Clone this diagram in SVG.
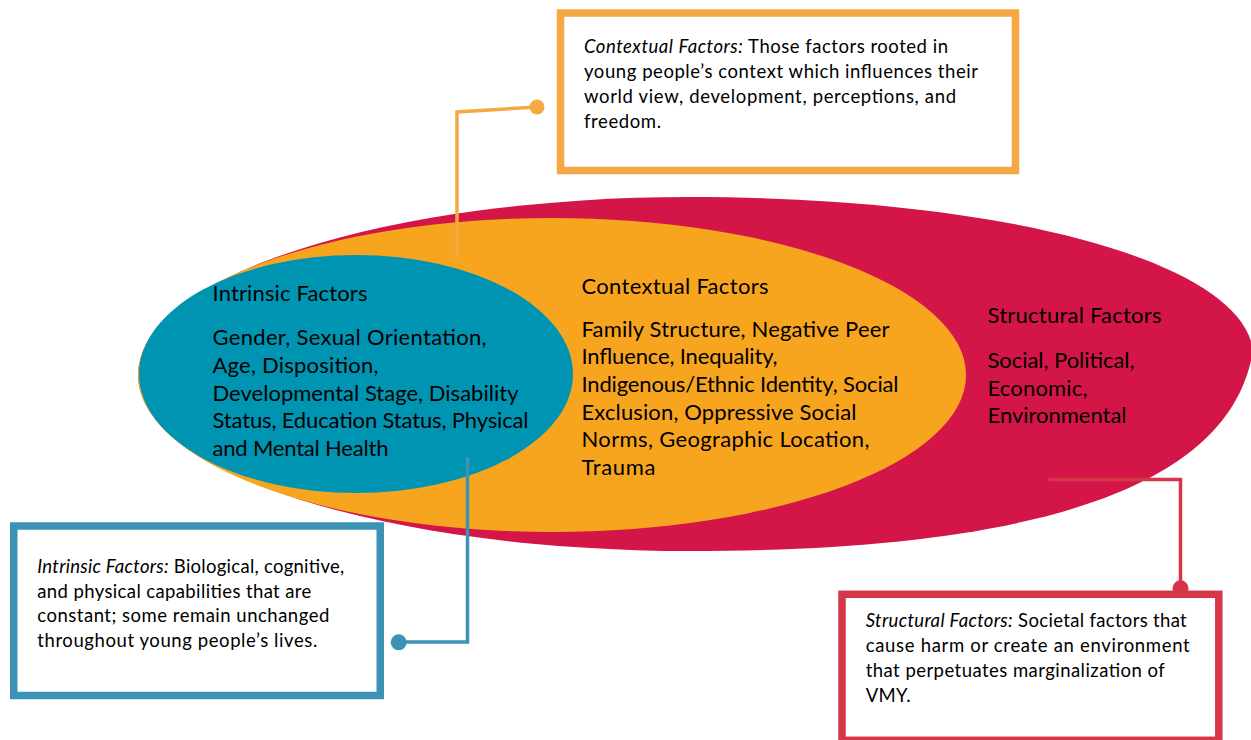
<svg xmlns="http://www.w3.org/2000/svg" width="1251" height="740" viewBox="0 0 1251 740">
<style>
  .lbl { font-family: Lato, "Open Sans", "Liberation Sans", sans-serif; fill: #000; }
  .big { font-size: 22px; }
  .box { font-size: 18.5px; }
  .it { font-style: italic; }
  .conn { fill: none; stroke-width: 3.5; stroke-linejoin: miter; }
  .frame { fill: #fff; stroke-width: 7.5; }
</style>
<rect width="1251" height="740" fill="#fff"/>
<g id="structural">
  <path d="M138,375 A552,178 0 0 1 690,197 C1000,197 1240,260 1253,350 C1230,500 1000,551 690,551 A552,176 0 0 1 138,375 Z" fill="#D31548"/>
</g>
<g id="contextual">
  <ellipse cx="552" cy="375" rx="414" ry="157" fill="#F7A51F"/>
</g>
<g id="intrinsic">
  <ellipse cx="356" cy="374" rx="217" ry="119" fill="#0094B3"/>
</g>
<g id="labels">
  <text class="lbl big" x="212.5" y="300.5" textLength="155">Intrinsic Factors</text>
  <text class="lbl big" x="212.5" y="345" textLength="274">Gender, Sexual Orientation,</text>
  <text class="lbl big" x="212.5" y="372.8" textLength="166">Age, Disposition,</text>
  <text class="lbl big" x="212.5" y="400.6" textLength="306">Developmental Stage, Disability</text>
  <text class="lbl big" x="212.5" y="428.4" textLength="316">Status, Education Status, Physical</text>
  <text class="lbl big" x="212.5" y="456.2" textLength="176">and Mental Health</text>

  <text class="lbl big" x="581.5" y="294" textLength="187">Contextual Factors</text>
  <text class="lbl big" x="581.5" y="336.7" textLength="308">Family Structure, Negative Peer</text>
  <text class="lbl big" x="581.5" y="364.3" textLength="196">Influence, Inequality,</text>
  <text class="lbl big" x="581.5" y="391.9" textLength="317">Indigenous/Ethnic Identity, Social</text>
  <text class="lbl big" x="581.5" y="419.5" textLength="275">Exclusion, Oppressive Social</text>
  <text class="lbl big" x="581.5" y="447.1" textLength="288">Norms, Geographic Location,</text>
  <text class="lbl big" x="581.5" y="474.7" textLength="74">Trauma</text>

  <text class="lbl big" x="987.5" y="323.3" textLength="174">Structural Factors</text>
  <text class="lbl big" x="987.5" y="368.3" textLength="147">Social, Political,</text>
  <text class="lbl big" x="987.5" y="395.8" textLength="100">Economic,</text>
  <text class="lbl big" x="987.5" y="423.3" textLength="139">Environmental</text>
</g>
<g id="connectors">
  <polyline class="conn" stroke="#F5A843" points="457,257 457,112 537,107"/>
  <circle cx="537" cy="107" r="7.5" fill="#F5A843"/>
  <polyline class="conn" stroke="#3C93B5" points="467.5,457 467.5,642 399,642"/>
  <circle cx="398.7" cy="642.3" r="8" fill="#3C93B5"/>
  <polyline class="conn" stroke="#D6364A" points="1048.5,479.5 1180.5,479.5 1180.5,588"/>
</g>
<g id="box-contextual">
  <rect class="frame" x="560.5" y="13" width="455" height="157.5" stroke="#F5A843"/>
  <text class="lbl box" x="584" y="53.3" textLength="364"><tspan class="it">Contextual Factors:</tspan> Those factors rooted in</text>
  <text class="lbl box" x="584" y="78.3" textLength="394">young people’s context which influences their</text>
  <text class="lbl box" x="584" y="103.3" textLength="372">world view, development, perceptions, and</text>
  <text class="lbl box" x="584" y="128" textLength="77">freedom.</text>
</g>
<g id="box-intrinsic">
  <rect class="frame" x="13.75" y="526" width="366.5" height="169.5" stroke="#3C93B5"/>
  <text class="lbl box" x="37.3" y="573" textLength="307"><tspan class="it">Intrinsic Factors:</tspan> Biological, cognitive,</text>
  <text class="lbl box" x="37.3" y="597.7" textLength="274">and physical capabilities that are</text>
  <text class="lbl box" x="37.3" y="622.4" textLength="292">constant; some remain unchanged</text>
  <text class="lbl box" x="37.3" y="647.1" textLength="280">throughout young people’s lives.</text>
</g>
<g id="box-structural">
  <rect class="frame" x="842" y="594.3" width="376.8" height="146" stroke="#D6364A"/>
  <circle cx="1180.5" cy="588.3" r="8" fill="#D6364A"/>
  <text class="lbl box" x="865.7" y="626.7" textLength="321"><tspan class="it">Structural Factors:</tspan> Societal factors that</text>
  <text class="lbl box" x="865.7" y="651.7" textLength="324">cause harm or create an environment</text>
  <text class="lbl box" x="865.7" y="676.7" textLength="299">that perpetuates marginalization of</text>
  <text class="lbl box" x="865.7" y="701.7" textLength="45">VMY.</text>
</g>
</svg>
